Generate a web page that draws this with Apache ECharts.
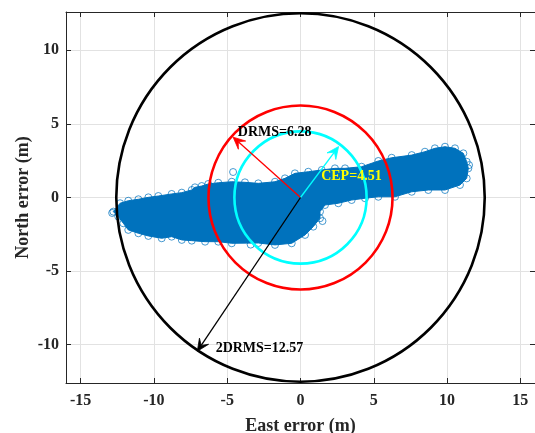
<!DOCTYPE html>
<html><head><meta charset="utf-8">
<script src="https://cdn.jsdelivr.net/npm/echarts@6/dist/echarts.min.js"></script>
<style>html,body{margin:0;padding:0;background:#fff}#c{width:535px;height:433px}</style>
</head><body><div id="c"></div>
<script>
// ---- data ----
const xTicks = [-15, -10, -5, 0, 5, 10, 15];
const yTicks = [-10, -5, 0, 5, 10];
const xRange = [-16, 16];
const yRange = [-12.6, 12.6];
// outline of the dense scatter cloud (East, North) in metres
const blobOutline = [
  [-12.77,-0.96],[-12.31,-0.39],[-11.75,-0.22],[-11.06,-0.12],[-10.38,0.01],[-9.70,0.10],
  [-8.79,0.24],[-8.10,0.33],[-7.42,0.51],[-7.20,0.69],[-6.74,0.78],[-6.29,0.92],[-5.61,1.00],
  [-4.69,1.07],[-3.79,1.03],[-2.88,0.96],[-1.74,1.07],[-1.06,1.30],[-0.38,1.64],[0.53,1.75],
  [1.45,1.87],[2.35,1.98],[3.04,1.98],[4.17,2.09],[5.31,2.48],[6.22,2.70],[7.59,2.88],
  [8.49,3.11],[9.17,3.34],[9.86,3.45],[10.54,3.34],[11.11,3.00],[11.34,2.43],[11.45,1.98],
  [11.34,1.30],[10.88,0.85],[9.86,0.51],[8.72,0.51],[7.59,0.39],[6.45,0.05],[5.31,0.05],
  [4.40,-0.05],[3.49,-0.17],[2.58,-0.39],[1.67,-0.51],[1.33,-0.96],[1.33,-1.41],[0.87,-1.98],
  [0.31,-2.54],[-0.60,-3.11],[-1.74,-3.22],[-2.88,-3.09],[-4.69,-3.11],[-5.61,-3.00],
  [-6.51,-3.00],[-7.42,-2.93],[-8.10,-2.88],[-8.79,-2.66],[-9.47,-2.77],[-10.38,-2.61],
  [-11.06,-2.43],[-11.75,-2.20],[-12.09,-1.75],[-12.43,-1.30]
];
const blobOutliers = [[-4.6,1.73],[-12.85,-1.05],[1.5,-1.6],[-3.4,-3.2],[11.5,2.2]];
// DRMS, CEP, 2DRMS
const circleRadii = [6.28, 4.51, 12.57];
const arrowTips = [[-4.60, 4.10], [2.60, 3.46], [-7.04, -10.44]];
const labelTexts = ['DRMS=6.28', 'CEP=4.51', '2DRMS=12.57'];
const labelAnchors = [[-4.28, 4.41], [1.41, 1.41], [-5.79, -10.22]];

// ---- styles ----
const FONT = '"Liberation Serif","Times New Roman",serif';
const AX = '#262626';
const BLUE = '#0072BD';
const circleColors = ['#ff0000', '#00ffff', '#000000'];
const arrowColors = ['#ff0000', '#00ffff', '#000000'];
const labelColors = ['#000000', '#ffff00', '#000000'];

const chart = echarts.init(document.getElementById('c'), null, {renderer: 'canvas'});

function baseX(pos, main) {
  return {
    type: 'value', min: xRange[0], max: xRange[1], position: pos,
    axisLine: {show: true, onZero: false, lineStyle: {color: AX, width: 1}},
    axisTick: {show: true, inside: true, length: 5, customValues: xTicks, lineStyle: {color: AX}},
    axisLabel: {show: main, customValues: xTicks, margin: 10, color: AX, fontFamily: FONT, fontWeight: 'bold', fontSize: 16},
    splitLine: {show: main, lineStyle: {color: '#e2e2e2', width: 1}},
    name: main ? 'East error (m)' : '', nameLocation: 'middle', nameGap: 34, nameMoveOverlap: false,
    nameTextStyle: {color: AX, fontFamily: FONT, fontWeight: 'bold', fontSize: 18}
  };
}
function baseY(pos, main) {
  return {
    type: 'value', min: yRange[0], max: yRange[1], position: pos,
    axisLine: {show: true, onZero: false, lineStyle: {color: AX, width: 1}},
    axisTick: {show: true, inside: true, length: 5, customValues: yTicks, lineStyle: {color: AX}},
    axisLabel: {show: main, customValues: yTicks, margin: 7, color: AX, fontFamily: FONT, fontWeight: 'bold', fontSize: 16},
    splitLine: {show: main, lineStyle: {color: '#e2e2e2', width: 1}},
    name: main ? 'North error (m)' : '', nameLocation: 'middle', nameGap: 34, nameMoveOverlap: false,
    nameTextStyle: {color: AX, fontFamily: FONT, fontWeight: 'bold', fontSize: 18}
  };
}

chart.setOption({
  animation: false,
  backgroundColor: '#fff',
  grid: {left: 66, top: 12, width: 469, height: 371, containLabel: false, outerBoundsMode: 'none'},
  xAxis: [baseX('bottom', true), baseX('top', false)],
  yAxis: [baseY('left', true), baseY('right', false)],
  series: [
    { // dense scatter cloud
      type: 'custom', silent: true, z: 2,
      data: [[0, 0]],
      renderItem: function (params, api) {
        const pts = blobOutline.map(p => api.coord(p));
        return {type: 'polygon', shape: {points: pts}, style: {fill: BLUE, stroke: BLUE, lineWidth: 1}};
      }
    },
    { // edge markers of the cloud
      type: 'scatter', silent: true, z: 3,
      data: blobOutline.concat(blobOutliers),
      symbol: 'circle', symbolSize: 7,
      itemStyle: {color: 'rgba(0,0,0,0)', borderColor: BLUE, borderWidth: 0.9}
    },
    { // circles
      type: 'custom', silent: true, z: 4,
      data: circleRadii.map(r => [0, 0, r]),
      renderItem: function (params, api) {
        const c = api.coord([0, 0]);
        const r = api.size([api.value(2), 0])[0];
        return {type: 'circle', shape: {cx: c[0], cy: c[1], r: r},
          style: {fill: null, stroke: circleColors[params.dataIndex], lineWidth: 2.6}};
      }
    },
    { // arrows
      type: 'custom', silent: true, z: 5,
      data: arrowTips,
      renderItem: function (params, api) {
        const o = api.coord([0, 0]);
        const t = api.coord([api.value(0), api.value(1)]);
        const dx = t[0] - o[0], dy = t[1] - o[1];
        const L = Math.sqrt(dx * dx + dy * dy);
        const ux = dx / L, uy = dy / L, px = -uy, py = ux;
        const hl = 12, hw = 5.5, nb = 7;
        const col = arrowColors[params.dataIndex];
        return {type: 'group', children: [
          {type: 'line', shape: {x1: o[0], y1: o[1], x2: t[0] - ux * nb, y2: t[1] - uy * nb},
            style: {stroke: col, lineWidth: 1.3}},
          {type: 'polygon', shape: {points: [
            [t[0], t[1]],
            [t[0] - ux * hl + px * hw, t[1] - uy * hl + py * hw],
            [t[0] - ux * nb, t[1] - uy * nb],
            [t[0] - ux * hl - px * hw, t[1] - uy * hl - py * hw]
          ]}, style: {fill: col, stroke: col, lineWidth: 0.8}}
        ]};
      }
    },
    { // labels
      type: 'custom', silent: true, z: 6,
      data: labelAnchors,
      renderItem: function (params, api) {
        const p = api.coord([api.value(0), api.value(1)]);
        return {type: 'text', x: p[0], y: p[1], style: {
          text: labelTexts[params.dataIndex], fill: labelColors[params.dataIndex],
          font: 'bold 14px ' + FONT, align: 'left', verticalAlign: 'middle'}};
      }
    }
  ]
});
</script></body></html>
